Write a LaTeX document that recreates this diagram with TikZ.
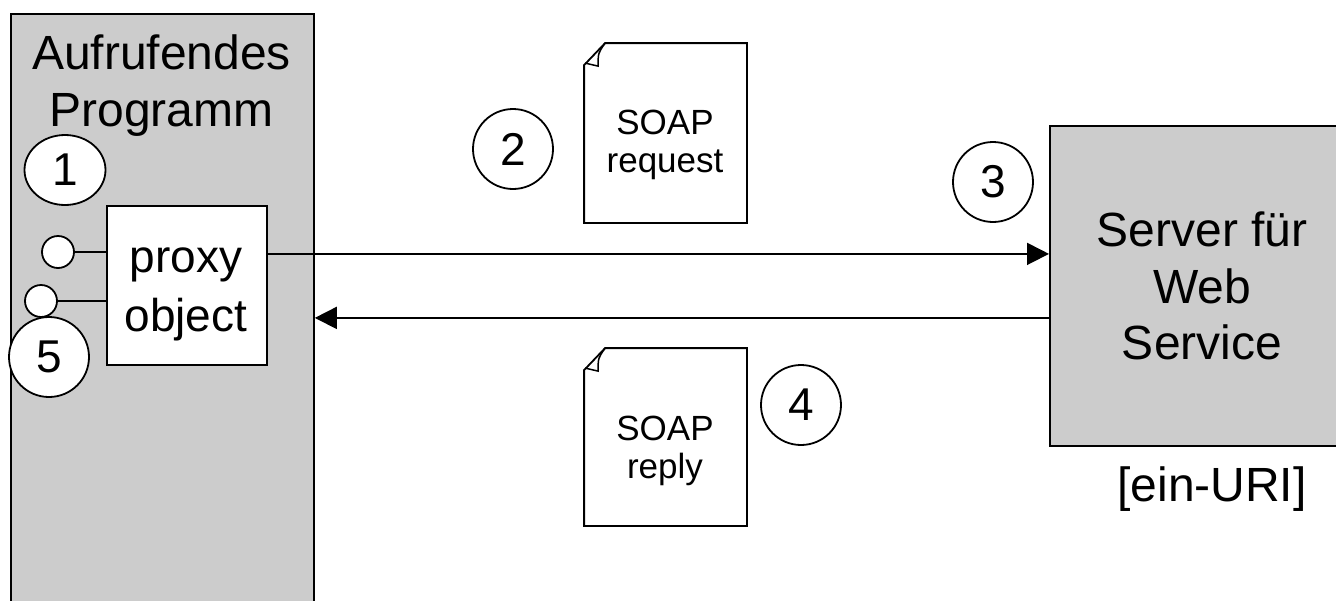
\documentclass[tikz,border=0pt]{standalone}
\usepackage{fontspec}
\setmainfont{Liberation Sans}
\usetikzlibrary{positioning,arrows.meta,shapes.geometric}
\definecolor{boxgray}{RGB}{204,204,204}

\begin{document}
\begin{tikzpicture}[x=1pt, y=-1pt, line width=1.8pt, >={Triangle[length=22pt,width=22pt]},
    block/.style={draw, rectangle, fill=boxgray, inner sep=0pt},
    num/.style={draw, circle, fill=white, minimum size=80pt, inner sep=0pt, font=\fontsize{46}{50}\selectfont},
    port/.style={draw, circle, fill=white, minimum size=32pt, inner sep=0pt},
    big/.style={align=center, inner sep=0pt, font=\fontsize{48}{56.5}\selectfont},
    doctext/.style={align=center, inner sep=0pt, font=\fontsize{35}{38}\selectfont}]
    \useasboundingbox (0,0) rectangle (1336,600);

    % calling program and server
    \node [block, anchor=north west, minimum width=303pt, minimum height=610pt] (prog) at (10,13) {};
    \node [big, anchor=north] (progtext) at (161.5,34) {Aufrufendes\\Programm};
    \node [block, anchor=north west, minimum width=310pt, minimum height=320pt] (server) at (1049,125) {};
    \node [big, anchor=north] (servertext) at (1202,211) {Server für\\Web\\Service};
    \node [big] (uri) at (1212,489) {[ein-URI]};

    % proxy with its two ports
    \node [draw, fill=white, anchor=north west, minimum width=160pt, minimum height=159pt] (proxy) at (106,205) {};
    \node [align=center, inner sep=0pt, anchor=north, font=\fontsize{46}{59}\selectfont] (proxytext) at (186,247) {proxy\\object};
    \node [port] (pa) at (58,252) {};
    \node [port] (pb) at (41,301) {};
    \draw (pa) -- (pa -| proxy.west);
    \draw (pb) -- (pb -| proxy.west);

    % messages
    \coordinate (reqout) at ([yshift=31.5pt]proxy.east);
    \coordinate (repin) at ([yshift=-32pt]server.west);
    \draw [->] (reqout) -- (reqout -| server.west);
    \draw [->] (repin) -- (repin -| prog.east);

    % SOAP documents
    \node [minimum width=161pt, minimum height=178pt, inner sep=0pt] (req) at (665.5,133) {};
    \node [minimum width=161pt, minimum height=176pt, inner sep=0pt] (rep) at (665.5,437) {};
    \foreach \d in {req,rep} {
        \draw [fill=white] (\d.south west) -- (\d.south east) -- (\d.north east) -- ([xshift=21pt]\d.north west)
            -- ([yshift=-22pt]\d.north west) -- cycle;
        \draw [line width=1.5pt] ([xshift=21pt]\d.north west) .. controls ([xshift=14pt,yshift=-10pt]\d.north west)
            .. ([xshift=14pt,yshift=-23pt]\d.north west) -- ([xshift=1pt,yshift=-20pt]\d.north west);
    }
    \node [doctext] (reqtext) at (665,145) {SOAP\\request};
    \node [doctext] (reptext) at (665,451) {SOAP\\reply};

    % steps
    \node [num, ellipse, minimum width=81pt, minimum height=70pt] (n1) at (65,170) {1};
    \node [num] (n2) at (513,149) {2};
    \node [num] (n3) at (993,182) {3};
    \node [num] (n4) at (801,405) {4};
    \node [num] (n5) at (49,357) {5};
\end{tikzpicture}
\end{document}
